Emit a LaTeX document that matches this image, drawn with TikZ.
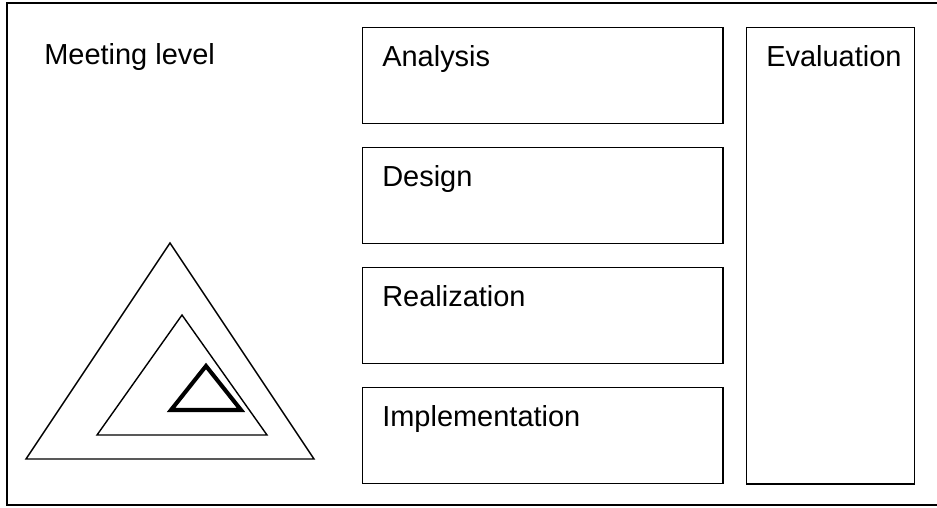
\documentclass[tikz,border=0pt]{standalone}
\usepackage{fontspec}
\setmainfont{Liberation Sans}
\usetikzlibrary{positioning}

\tikzset{
  phase/.style={draw, line width=1pt, rectangle, anchor=north west, inner sep=0pt, minimum width=9cm, minimum height=2.4cm},
  evalbox/.style={draw, line width=1pt, rectangle, anchor=north west, inner sep=0pt, minimum width=4.2cm, minimum height=11.4cm},
  lbl/.style={anchor=base west, inner sep=0pt, font=\fontsize{20.6}{25}\selectfont},
  tri/.style={line width=1pt},
  boldtri/.style={line width=2.9pt}
}

\begin{document}
\begin{tikzpicture}[x=0.025cm, y=-0.025cm]
\useasboundingbox (0, 0) rectangle (937, 507);
\draw [line width=1.1pt] (7, 3) rectangle (939, 505);
\node [lbl] (meet) at (44, 64) {Meeting level};
\foreach \nm/\txt [count=\i from 0] in {ana/Analysis, des/Design, rea/Realization, imp/Implementation} {
  \node [phase] (\nm) at (362, 27+120*\i) {};
  \node [lbl] (\nm-lbl) at ([shift={(20, 39)}]\nm.north west) {\txt};
}
\node [evalbox] (eval) at (746, 27) {};
\node [lbl] (eval-lbl) at ([shift={(20, 39)}]eval.north west) {Evaluation};
\draw [tri] (170, 243) -- (314, 459) -- (26, 459) -- cycle;
\draw [tri] (182, 315) -- (267, 435) -- (97, 435) -- cycle;
\draw [boldtri] (206, 366) -- (241, 410) -- (171, 410) -- cycle;
\end{tikzpicture}
\end{document}
